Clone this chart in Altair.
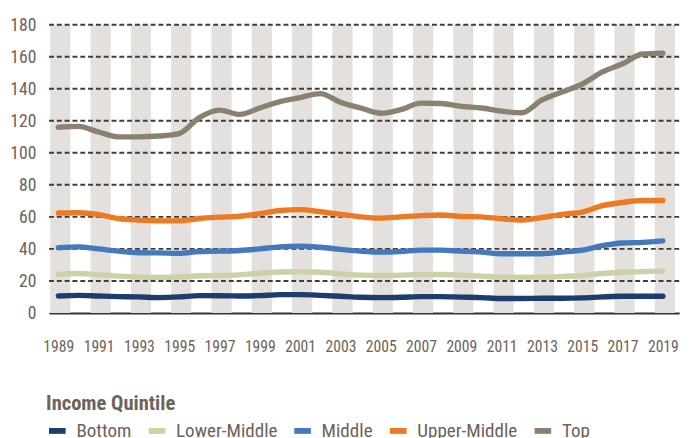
import altair as alt
import pandas as pd

years = list(range(1989, 2020))
series = ["Bottom", "Lower-Middle", "Middle", "Upper-Middle", "Top"]
colors = ["#1d3d6e", "#cfcfa8", "#4479be", "#ec7a23", "#8c8170"]

bottom = [10.6, 11.0, 10.6, 10.2, 10.0, 9.6, 10.0, 10.8, 10.7, 10.6, 10.8, 11.4, 11.4, 11.0, 10.4, 9.8,
          9.6, 9.8, 10.2, 10.2, 9.9, 9.6, 9.0, 9.0, 9.2, 9.2, 9.4, 10.0, 10.4, 10.4, 10.4]
lower_middle = [24.0, 24.6, 23.8, 23.0, 22.4, 22.2, 22.6, 23.2, 23.4, 23.8, 24.8, 25.6, 25.8, 25.4, 24.4, 23.6,
                23.4, 23.6, 24.0, 24.0, 23.6, 23.0, 22.4, 22.4, 22.4, 22.8, 23.4, 24.6, 25.4, 25.8, 26.2]
middle = [40.7, 41.3, 40.0, 38.6, 37.6, 37.5, 37.2, 38.4, 38.6, 39.0, 40.0, 41.3, 41.7, 41.0, 39.7, 38.6,
          38.0, 38.4, 39.2, 39.2, 38.6, 38.0, 37.0, 37.0, 37.0, 38.0, 39.2, 42.0, 43.7, 44.1, 45.0]
upper_middle = [62.4, 62.6, 61.4, 59.0, 58.0, 57.5, 57.5, 59.0, 59.8, 60.4, 62.0, 64.0, 64.5, 63.2, 61.6, 60.0,
                59.2, 60.0, 60.8, 61.2, 60.3, 60.0, 58.8, 58.0, 59.6, 61.6, 63.0, 67.0, 69.0, 70.2, 70.2]
top = [116.0, 116.5, 113.0, 110.0, 110.0, 110.5, 112.0, 122.0, 126.7, 124.0, 128.0, 132.0, 134.5, 137.0, 131.6, 128.0,
       124.7, 127.0, 131.0, 130.8, 129.0, 128.0, 126.0, 125.0, 133.0, 138.0, 143.0, 150.5, 155.6, 161.7, 162.3]

y_ticks = [0, 20, 40, 60, 80, 100, 120, 140, 160, 180]
grid_vals = y_ticks[1:]
x_ticks = list(range(1989, 2020, 2))

values = [bottom, lower_middle, middle, upper_middle, top]
rows = []
for name, vals in zip(series, values):
    for yr, v in zip(years, vals):
        rows.append({"year": yr, "value": v, "quintile": name})
df = pd.DataFrame(rows)

bands = pd.DataFrame({"start": [y - 0.4 for y in x_ticks], "end": [y + 0.6 for y in x_ticks]})
grid = pd.DataFrame({"v": grid_vals})
ylabels = pd.DataFrame({"v": y_ticks, "t": [str(v) for v in y_ticks]})

FONT = "Liberation Sans Narrow, Roboto Condensed, DejaVu Sans Condensed, sans-serif"
TXT = "#6e6259"

xscale = alt.Scale(domain=[1988.54, 2019.81], nice=False, zero=False)
yscale = alt.Scale(domain=[0, 180], nice=False)

band_layer = alt.Chart(bands).mark_rect(color="#e4e0dd", clip=True).encode(
    x=alt.X("start:Q", scale=xscale),
    x2="end:Q",
)

grid_layer = alt.Chart(grid).mark_rule(color="#3d3d3d", strokeWidth=2, strokeDash=[5, 3]).encode(
    y=alt.Y("v:Q", scale=yscale),
)

ylabel_layer = alt.Chart(ylabels).mark_text(
    align="right", baseline="middle", font=FONT, fontSize=18, color=TXT, dy=1
).encode(
    x=alt.value(-13),
    y=alt.Y("v:Q", scale=yscale),
    text="t:N",
)

line_layer = alt.Chart(df).mark_line(strokeWidth=5.5, strokeCap="round", strokeJoin="round",
                                     interpolate="monotone").encode(
    x=alt.X("year:Q", scale=xscale,
            axis=alt.Axis(values=x_ticks, format="d", title=None, grid=False, ticks=False,
                          domain=True, domainColor="#333333", domainWidth=2,
                          labelOverlap=False, labelBound=False,
                          labelPadding=26, labelFontSize=16, labelColor=TXT, labelFont=FONT)),
    y=alt.Y("value:Q", scale=yscale,
            axis=alt.Axis(values=y_ticks, title=None, grid=False, ticks=False, domain=False,
                          labels=False)),
    color=alt.Color("quintile:N", scale=alt.Scale(domain=series, range=colors),
                    sort=series,
                    legend=alt.Legend(title="Income Quintile", orient="none", legendX=-3, legendY=377,
                                      direction="horizontal", symbolType="stroke",
                                      symbolStrokeWidth=6, symbolSize=289,
                                      labelFontSize=19.5, labelColor=TXT, labelFont=FONT,
                                      titleFontSize=21, titleFontWeight="bold", titleColor=TXT,
                                      titleFont=FONT, titlePadding=6, columnPadding=5,
                                      labelOffset=8)),
)

chart = alt.layer(band_layer, grid_layer, ylabel_layer, line_layer).properties(
    width=645, height=295,
    autosize=alt.AutoSizeParams(type="none"),
    padding={"left": 42, "top": 12, "right": 8, "bottom": 128},
).configure_view(stroke=None).configure_axis(
    labelOverlap=False, labelBound=False, grid=False, ticks=False, title=None
).configure_axisY(domain=False)

chart.save("out.html", embed_options={"renderer": "svg", "actions": False})
